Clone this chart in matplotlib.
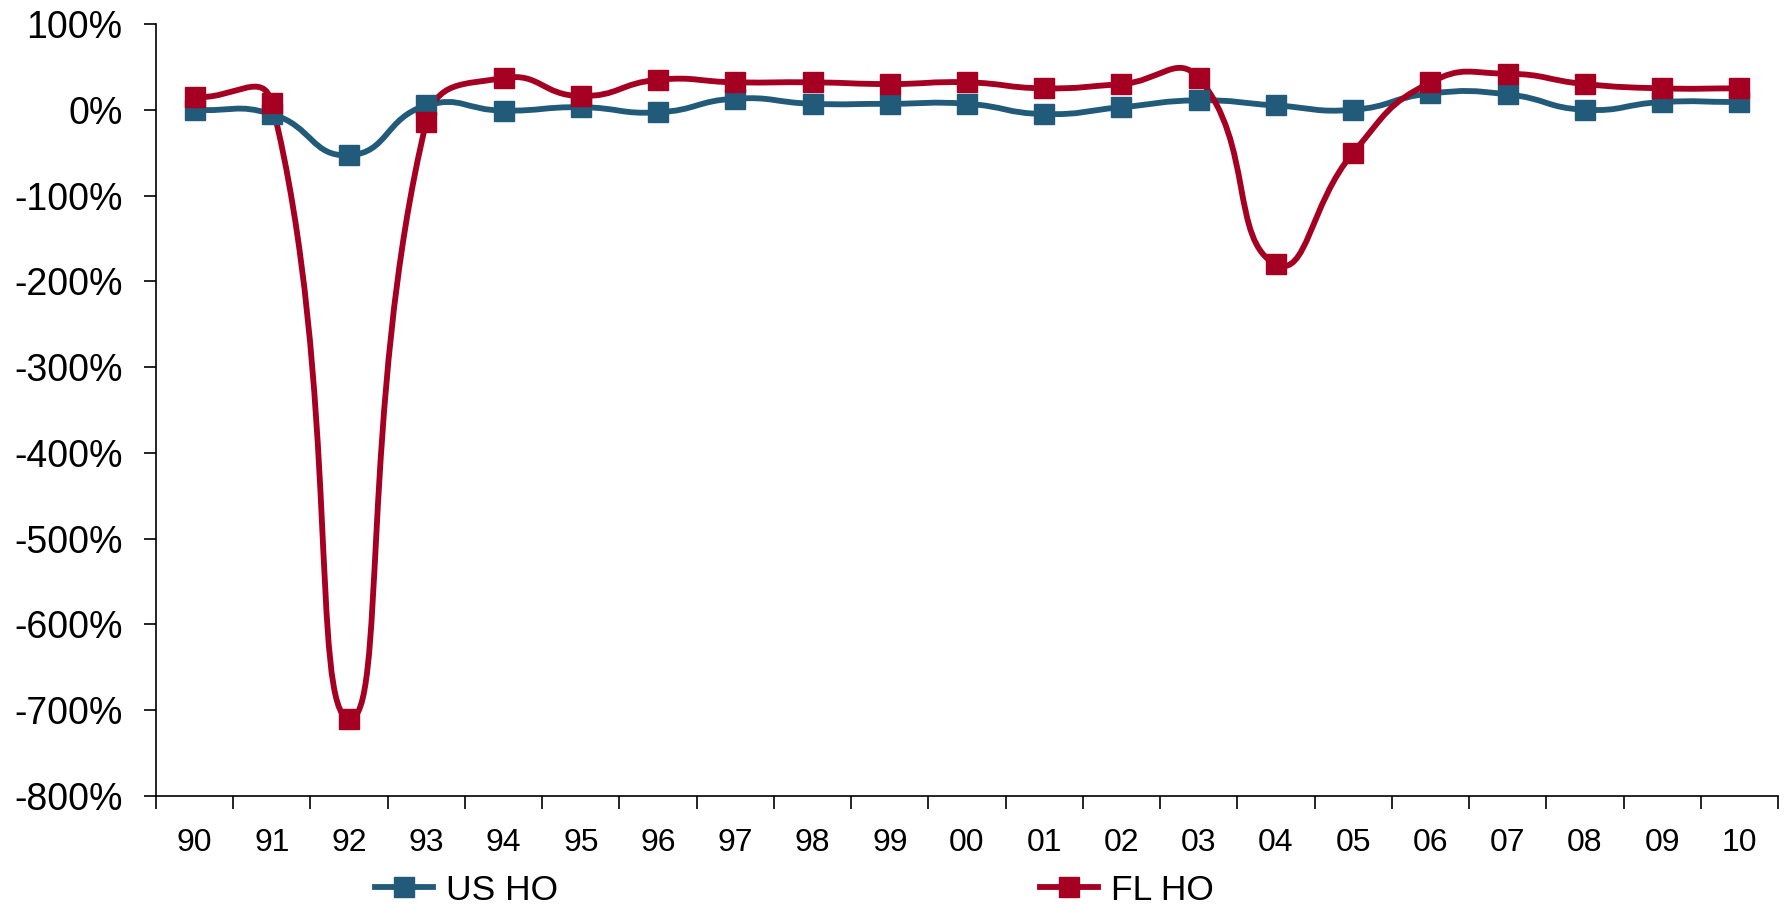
import numpy as np
import matplotlib
matplotlib.use('Agg')
from matplotlib import pyplot as plt
from matplotlib.path import Path
from matplotlib.patches import PathPatch
from matplotlib.lines import Line2D

plt.rcParams['font.family'] = ['Liberation Sans', 'DejaVu Sans']

# data (% change)
years = ['90', '91', '92', '93', '94', '95', '96', '97', '98', '99', '00',
         '01', '02', '03', '04', '05', '06', '07', '08', '09', '10']
us_ho = [0, -5, -53, 5, -1, 3, -3, 13, 7, 7, 7, -5, 3, 11, 5, 0, 19, 18, 0, 9, 9]
fl_ho = [15, 8, -710, -14, 37, 16, 35, 32, 32, 30, 32, 25, 30, 37, -180, -50,
         32, 42, 30, 25, 25]

blue = '#225B79'
red = '#A50021'


def smooth_path(ax, xs, ys, k=0.5):
    # excel-like smoothed line: bezier through the points, worked out in pixels
    pts = ax.transData.transform(np.column_stack([xs, ys]))
    n = len(pts)
    cin = np.zeros_like(pts)
    cout = np.zeros_like(pts)
    for i in range(n):
        p_prev = pts[max(i - 1, 0)]
        p_next = pts[min(i + 1, n - 1)]
        t = p_next - p_prev
        d0 = np.hypot(*(pts[i] - p_prev))
        d1 = np.hypot(*(p_next - pts[i]))
        if d0 + d1 == 0:
            continue
        cin[i] = pts[i] - t * k * d0 / (d0 + d1)
        cout[i] = pts[i] + t * k * d1 / (d0 + d1)
    verts = [pts[0]]
    codes = [Path.MOVETO]
    for i in range(n - 1):
        verts += [cout[i], cin[i + 1], pts[i + 1]]
        codes += [Path.CURVE4] * 3
    verts = ax.transData.inverted().transform(np.array(verts))
    return Path(verts, codes)


fig = plt.figure(figsize=(17.91, 9.07), dpi=100)
ax = fig.add_axes([156 / 1791, 1 - 796 / 907, (1778 - 156) / 1791, (796 - 24) / 907])

x = np.arange(len(years))
ax.set_xlim(-0.5, len(years) - 0.5)
ax.set_ylim(-800, 100)

for vals, col in [(us_ho, blue), (fl_ho, red)]:
    p = smooth_path(ax, x, vals)
    ax.add_patch(PathPatch(p, facecolor='none', edgecolor=col, lw=4.2,
                           joinstyle='round', capstyle='round'))
    ax.plot(x, vals, ls='none', marker='s', ms=14.5, color=col, mec=col)

ax.set_yticks(np.arange(-800, 101, 100))
ax.set_yticklabels([f'{v}%' for v in range(-800, 101, 100)], fontsize=27)
ax.set_xticks(x)
ax.set_xticklabels(years, fontsize=23)
ax.set_xticks(np.arange(-0.5, len(years)), minor=True)
ax.tick_params(axis='x', which='major', length=0, pad=23)
ax.tick_params(axis='x', which='minor', length=9, width=1.2, direction='out')
ax.tick_params(axis='y', length=9, width=1.2, pad=15, direction='out')

for s in ['top', 'right']:
    ax.spines[s].set_visible(False)
for s in ['left', 'bottom']:
    ax.spines[s].set_linewidth(1.2)

handles = [Line2D([], [], color=blue, lw=4.2, marker='s', ms=14.5),
           Line2D([], [], color=red, lw=4.2, marker='s', ms=14.5)]
fig.legend(handles, ['US HO', 'FL HO'], loc='center left',
           bbox_to_anchor=(375 / 1791, 1 - 890 / 907), ncol=2, frameon=False,
           fontsize=25.5, handlelength=1.64, handletextpad=0.37,
           columnspacing=13.6, borderpad=0, borderaxespad=0, numpoints=1)

plt.savefig('out.png', dpi=100)
